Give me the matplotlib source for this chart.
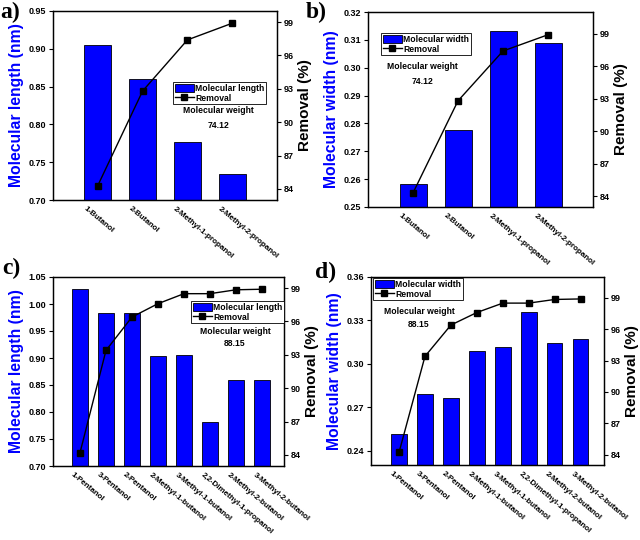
import matplotlib
matplotlib.use("Agg")
import matplotlib.pyplot as plt
import matplotlib.transforms as mtransforms
from matplotlib.patches import Patch
from matplotlib.lines import Line2D

plt.rcParams['font.family'] = ['Liberation Sans', 'DejaVu Sans']
plt.rcParams['font.weight'] = 'bold'

# data
butanols = ['1-Butanol', '2-Butanol', '2-Methyl-1-propanol', '2-Methyl-2-propanol']
butanol_length = [0.905, 0.860, 0.777, 0.734]
butanol_width = [0.2582, 0.2777, 0.3133, 0.3089]
butanol_removal = [84.3, 92.8, 97.4, 98.9]

pentanols = ['1-Pentanol', '3-Pentanol', '2-Pentanol', '2-Methyl-1-butanol',
             '3-Methyl-1-butanol', '2,2-Dimethyl-1-propanol', '2-Methyl-2-butanol',
             '3-Methyl-2-butanol']
pentanol_length = [1.027, 0.983, 0.984, 0.904, 0.905, 0.781, 0.860, 0.860]
pentanol_width = [0.2517, 0.2793, 0.2765, 0.3089, 0.3116, 0.3357, 0.3144, 0.3174]
pentanol_removal = [84.2, 93.4, 96.4, 97.6, 98.5, 98.5, 98.85, 98.9]

fig = plt.figure(figsize=(6.4, 5.4), dpi=100)
W, H = 640.0, 540.0


def panel(box, names, bars, removal, bar_label, ylab, ylim, yticks,
          rlim, xlim, xoff, leg_xy, mw_xy, mw, letter, letter_xy):
    l, t, r, b = box
    ax = fig.add_axes([l / W, 1 - b / H, (r - l) / W, (b - t) / H])
    x = list(range(len(names)))
    ax.bar(x, bars, width=0.6, color='#0000ff', edgecolor='black', linewidth=0.6)
    ax.set_ylim(*ylim)
    ax.set_xlim(*xlim)
    ax.set_yticks(yticks)
    ax.set_yticklabels(['%.2f' % v for v in yticks])
    ax.set_ylabel(ylab, color='#0000ff', fontsize=11.3, fontweight='bold', labelpad=3)
    ax.tick_params(axis='y', direction='out', length=3, width=0.8, labelsize=6.5, pad=2)
    ax.set_xticks(x)
    ax.set_xticklabels(names, rotation=-40, ha='left', va='top',
                       rotation_mode='anchor', fontsize=5.8)
    ax.tick_params(axis='x', length=0, pad=4)
    off = mtransforms.ScaledTranslation(xoff / 100.0, 0, fig.dpi_scale_trans)
    for lab in ax.get_xticklabels():
        lab.set_transform(lab.get_transform() + off)
    for s in ax.spines.values():
        s.set_linewidth(0.9)

    ax2 = ax.twinx()
    ax2.plot(x, removal, color='black', linewidth=1.0, marker='s', markersize=5)
    ax2.set_ylim(*rlim)
    ax2.set_yticks([84, 87, 90, 93, 96, 99])
    ax2.set_ylabel('Removal (%)', fontsize=11, fontweight='bold', labelpad=3)
    ax2.tick_params(axis='y', direction='out', length=3, width=0.8, labelsize=6.5, pad=2)
    for s in ax2.spines.values():
        s.set_linewidth(0.9)

    handles = [Patch(facecolor='#0000ff', edgecolor='black', linewidth=0.6),
               Line2D([], [], color='black', marker='s', markersize=5, linewidth=1.0)]
    leg = ax2.legend(handles, [bar_label, 'Removal'], loc='upper left',
                     bbox_to_anchor=leg_xy, borderaxespad=0, fontsize=6.2,
                     frameon=True, fancybox=False, edgecolor='black', framealpha=1,
                     handlelength=2.2, handleheight=1.0, handletextpad=0.2,
                     borderpad=0.2, labelspacing=0.1)
    leg.get_frame().set_linewidth(0.6)
    ax2.text(mw_xy[0], mw_xy[1], 'Molecular weight', transform=ax.transAxes,
             ha='center', va='center', fontsize=6.2, fontweight='bold')
    ax2.text(mw_xy[0], mw_xy[2], mw, transform=ax.transAxes,
             ha='center', va='center', fontsize=6.2, fontweight='bold')
    fig.text(letter_xy[0] / W, 1 - letter_xy[1] / H, letter, fontsize=17,
             fontweight='bold', family='Liberation Serif', ha='left', va='top')


panel((53, 11, 277, 200), butanols, butanol_length, butanol_removal,
      'Molecular length', 'Molecular length (nm)', (0.70, 0.95),
      [0.70, 0.75, 0.80, 0.85, 0.90, 0.95], (83, 100), (-1, 4), -11,
      (0.536, 0.624), (0.737, 0.471, 0.392), '74.12', 'a)', (0, 2))

panel((368, 12, 593, 207), butanols, butanol_width, butanol_removal,
      'Molecular width', 'Molecular width (nm)', (0.25, 0.32),
      [0.25, 0.26, 0.27, 0.28, 0.29, 0.30, 0.31, 0.32], (83, 101), (-1, 4), -11,
      (0.058, 0.892), (0.24, 0.718, 0.646), '74.12', 'b)', (306, 2))

panel((53, 277, 284, 466), pentanols, pentanol_length, pentanol_removal,
      'Molecular length', 'Molecular length (nm)', (0.70, 1.05),
      [0.70, 0.75, 0.80, 0.85, 0.90, 0.95, 1.00, 1.05], (83, 100),
      (-1.04, 7.85), -6, (0.597, 0.873), (0.788, 0.709, 0.646), '88.15', 'c)', (2, 258))

panel((371, 277, 604, 465), pentanols, pentanol_width, pentanol_removal,
      'Molecular width', 'Molecular width (nm)', (0.23, 0.36),
      [0.24, 0.27, 0.30, 0.33, 0.36], (83, 101),
      (-1.08, 7.9), -6, (0.009, 0.995), (0.206, 0.814, 0.745), '88.15', 'd)', (315, 262))

fig.savefig('out.png', dpi=100)
